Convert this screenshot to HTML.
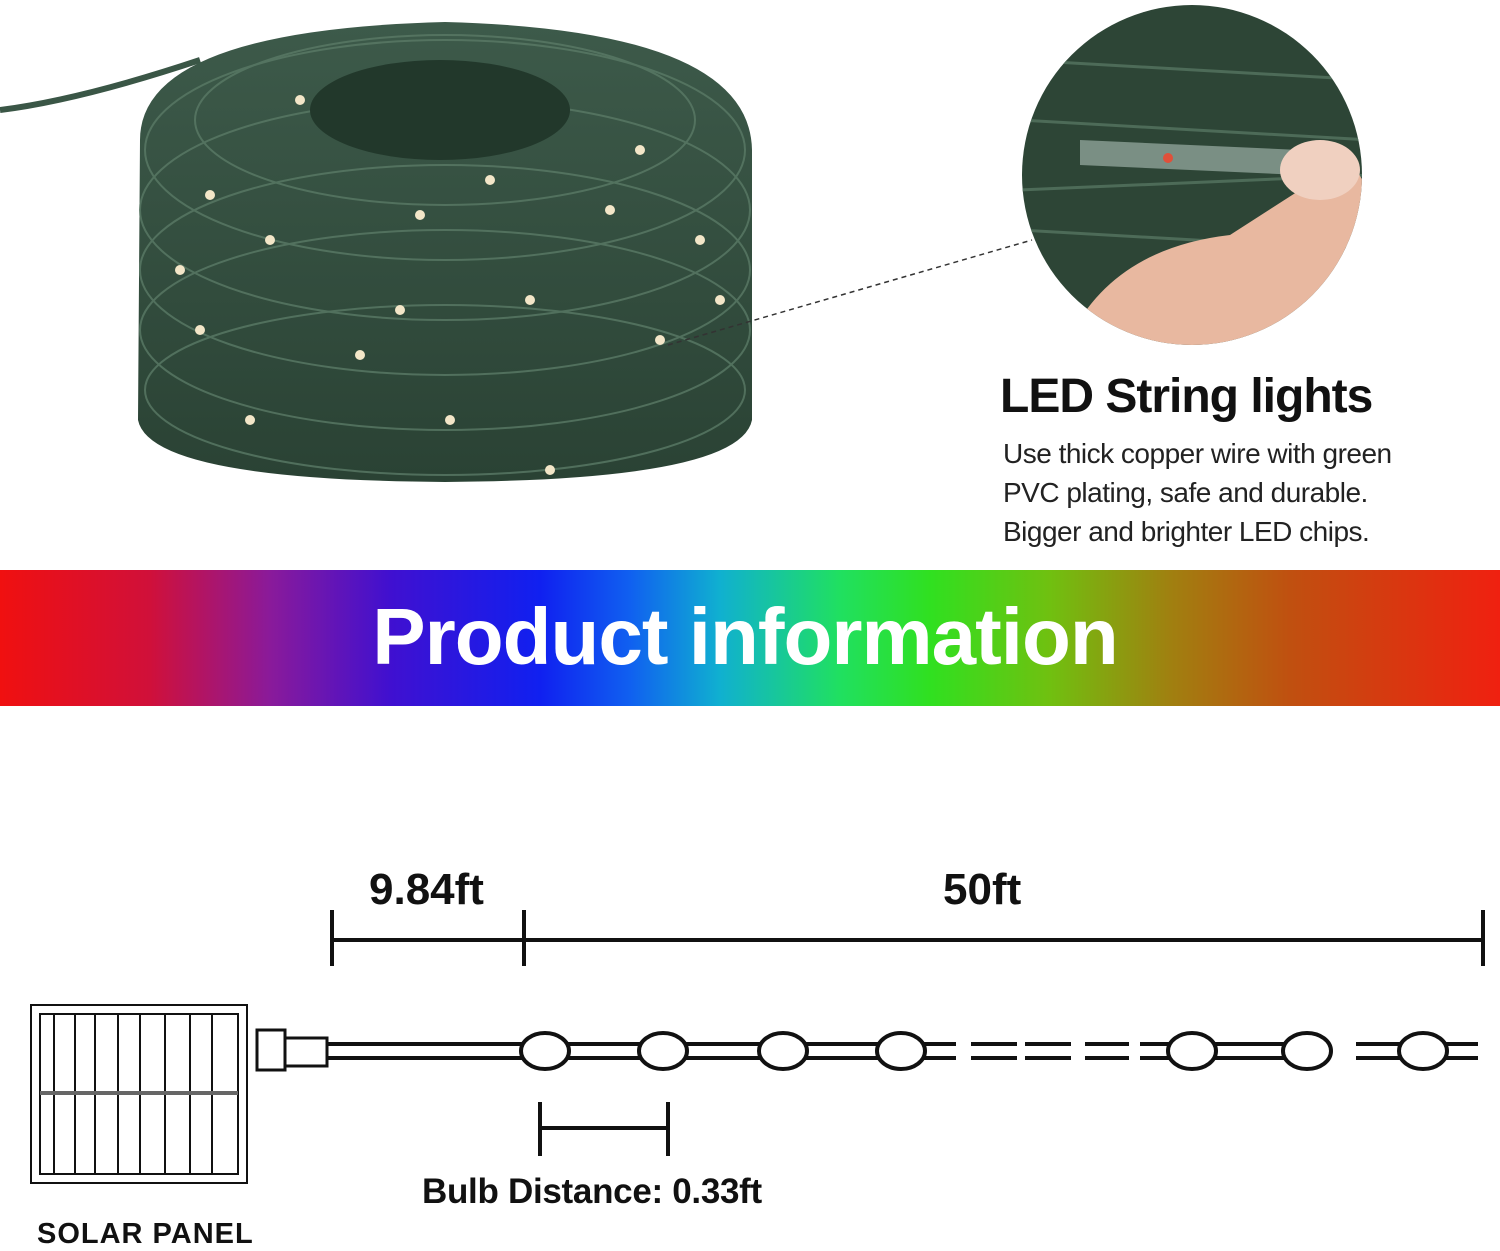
<!DOCTYPE html>
<html><head><style>
body{margin:0;width:1500px;height:1250px;background:#fff;position:relative;overflow:hidden;font-family:"Liberation Sans",Arial,sans-serif}
.band{position:absolute;left:0;top:570px;width:1500px;height:136px;background:linear-gradient(90deg,#f01010 0%,#d0103a 10%,#8a1a9a 18%,#4010d0 26%,#1020f0 36%,#1060f0 42%,#10b0d0 48%,#20e060 56%,#30e020 62%,#70c010 70%,#a08010 78%,#c05010 86%,#f02010 100%)}
.band div{position:absolute;left:0;width:1490px;text-align:center;top:21px;color:#fff;font-weight:bold;font-size:80px;letter-spacing:-1px}
.t{position:absolute;white-space:nowrap}
</style></head><body>
<svg width="1500" height="570" style="position:absolute;left:0;top:0">
<defs><clipPath id="c"><circle cx="1192" cy="175" r="170"/></clipPath>
<linearGradient id="g" x1="0" y1="0" x2="0" y2="1"><stop offset="0" stop-color="#3d5a4a"/><stop offset="1" stop-color="#2a4234"/></linearGradient></defs>
<path d="M0 110 Q80 100 200 60" stroke="#3a5646" stroke-width="6" fill="none"/>
<path d="M140 140 Q140 30 445 22 Q750 30 752 150 L752 420 Q740 480 445 482 Q150 480 138 420 Z" fill="url(#g)"/>
<g stroke="#5a7a66" stroke-width="2" fill="none" opacity="0.8">
<ellipse cx="445" cy="150" rx="300" ry="110"/><ellipse cx="445" cy="210" rx="305" ry="110"/><ellipse cx="445" cy="270" rx="305" ry="105"/><ellipse cx="445" cy="330" rx="305" ry="100"/><ellipse cx="445" cy="390" rx="300" ry="85"/><ellipse cx="445" cy="120" rx="250" ry="85"/>
</g>
<ellipse cx="440" cy="110" rx="130" ry="50" fill="#22382b"/>
<g fill="#f3e6c8">
<circle cx="210" cy="195" r="5"/><circle cx="270" cy="240" r="5"/><circle cx="420" cy="215" r="5"/><circle cx="610" cy="210" r="5"/><circle cx="700" cy="240" r="5"/><circle cx="200" cy="330" r="5"/><circle cx="360" cy="355" r="5"/><circle cx="530" cy="300" r="5"/><circle cx="660" cy="340" r="5"/><circle cx="250" cy="420" r="5"/><circle cx="450" cy="420" r="5"/><circle cx="550" cy="470" r="5"/><circle cx="300" cy="100" r="5"/><circle cx="490" cy="180" r="5"/><circle cx="640" cy="150" r="5"/><circle cx="180" cy="270" r="5"/><circle cx="720" cy="300" r="5"/><circle cx="400" cy="310" r="5"/></g>
<circle cx="1192" cy="175" r="170" fill="#2d4536"/>
<g clip-path="url(#c)">
<g stroke="#4d6b58" stroke-width="3"><line x1="1020" y1="60" x2="1370" y2="80"/><line x1="1020" y1="120" x2="1370" y2="140"/><line x1="1020" y1="190" x2="1370" y2="175"/><line x1="1020" y1="230" x2="1370" y2="250"/></g>
<path d="M1080 140 L1300 150 L1300 175 L1080 165 Z" fill="#7a8f84"/>
<circle cx="1168" cy="158" r="5" fill="#e0503a"/>
<path d="M1060 360 Q1100 250 1230 235 L1300 190 Q1350 130 1370 200 L1370 360 Z" fill="#e8b8a0"/>
<ellipse cx="1320" cy="170" rx="40" ry="30" fill="#f0d0c0"/>
</g>
<line x1="668" y1="345" x2="1032" y2="240" stroke="#333" stroke-width="1.5" stroke-dasharray="5,4"/>
</svg>
<div class="t" style="left:1000px;top:369px;font-size:48px;font-weight:bold;color:#111;letter-spacing:-1px">LED String lights</div>
<div class="t" style="left:1003px;top:434px;font-size:28px;line-height:39px;color:#222;letter-spacing:-0.5px">Use thick copper wire with green<br>PVC plating, safe and durable.<br>Bigger and brighter LED chips.</div>
<div class="band"><div>Product information</div></div>
<svg width="1500" height="544" style="position:absolute;left:0;top:706px">
<g transform="translate(0,-706)" stroke="#111" fill="none">
<g stroke-width="4"><line x1="332" y1="940" x2="1483" y2="940"/><line x1="332" y1="910" x2="332" y2="966"/><line x1="524" y1="910" x2="524" y2="966"/><line x1="1483" y1="910" x2="1483" y2="966"/>
<line x1="540" y1="1128" x2="668" y2="1128"/><line x1="540" y1="1102" x2="540" y2="1156"/><line x1="668" y1="1102" x2="668" y2="1156"/></g>
<g stroke-width="2"><rect x="31" y="1005" width="216" height="178"/><rect x="40" y="1014" width="198" height="160"/>
<line x1="54" y1="1014" x2="54" y2="1174"/><line x1="75" y1="1014" x2="75" y2="1174"/><line x1="95" y1="1014" x2="95" y2="1174"/><line x1="118" y1="1014" x2="118" y2="1174"/><line x1="140" y1="1014" x2="140" y2="1174"/><line x1="165" y1="1014" x2="165" y2="1174"/><line x1="190" y1="1014" x2="190" y2="1174"/><line x1="212" y1="1014" x2="212" y2="1174"/></g>
<line x1="40" y1="1093" x2="238" y2="1093" stroke-width="4" stroke="#666"/>
<rect x="257" y="1030" width="28" height="40" stroke-width="3"/><rect x="285" y="1038" width="42" height="28" stroke-width="3"/>
<g stroke-width="4">
<path d="M327 1044H956M327 1058H956"/>
<path d="M971 1044H1017M971 1058H1017M1025 1044H1071M1025 1058H1071M1085 1044H1129M1085 1058H1129"/>
<path d="M1140 1044H1306M1140 1058H1306"/>
<path d="M1356 1044H1478M1356 1058H1478"/>
</g>
<g stroke-width="4" fill="#fff"><ellipse cx="545" cy="1051" rx="24" ry="18"/><ellipse cx="663" cy="1051" rx="24" ry="18"/><ellipse cx="783" cy="1051" rx="24" ry="18"/><ellipse cx="901" cy="1051" rx="24" ry="18"/><ellipse cx="1192" cy="1051" rx="24" ry="18"/><ellipse cx="1307" cy="1051" rx="24" ry="18"/><ellipse cx="1423" cy="1051" rx="24" ry="18"/></g>
</g></svg>
<div class="t" style="left:369px;top:865px;font-size:44px;font-weight:bold;color:#111">9.84ft</div>
<div class="t" style="left:943px;top:865px;font-size:44px;font-weight:bold;color:#111">50ft</div>
<div class="t" style="left:422px;top:1172px;font-size:35px;font-weight:bold;color:#111;letter-spacing:-0.3px">Bulb Distance: 0.33ft</div>
<div class="t" style="left:37px;top:1218px;font-size:29px;font-weight:bold;color:#111;letter-spacing:1px">SOLAR PANEL</div>
</body></html>
